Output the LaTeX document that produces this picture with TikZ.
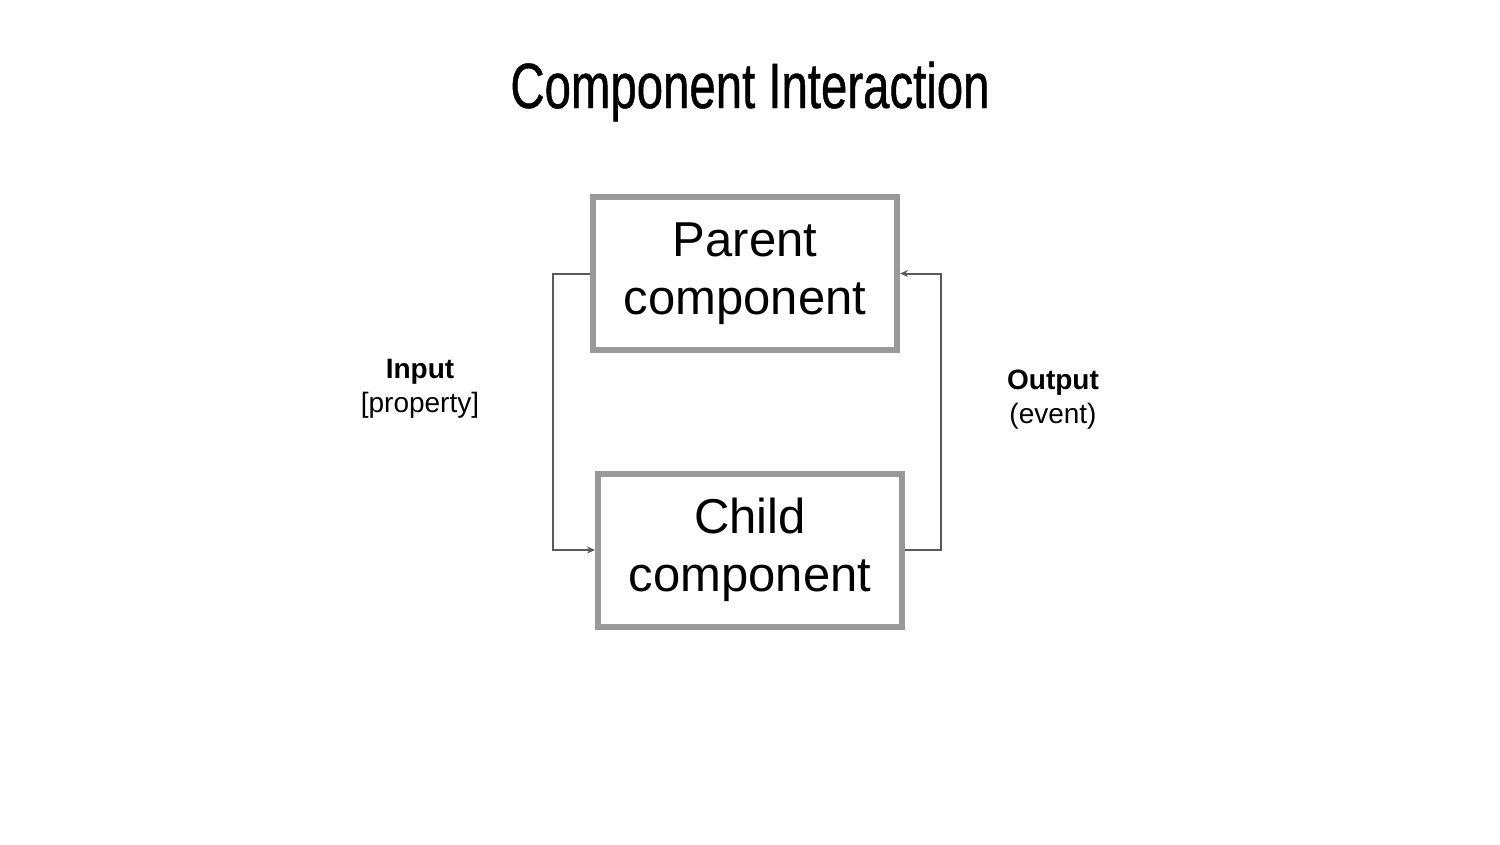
\documentclass[tikz,border=0pt]{standalone}
\usepackage{fontspec}
\setmainfont{Liberation Sans}
\newfontfamily\titlefont[FakeStretch=0.74,FakeBold=0.7]{Liberation Sans}
\usetikzlibrary{arrows.meta,positioning}
\definecolor{boxgray}{HTML}{999999}
\definecolor{linkgray}{HTML}{595959}

\begin{document}
\begin{tikzpicture}[
    x=1pt, y=-1pt,
    comp/.style={rectangle, draw=boxgray, line width=6pt, fill=white, minimum width=304pt, minimum height=153pt, align=center, font=\fontsize{49}{58}\selectfont},
    link/.style={draw=linkgray, line width=2pt, -{Stealth[length=8pt,width=7pt]}},
    iolabel/.style={align=center, font=\fontsize{28}{34}\selectfont},
    heading/.style={font=\titlefont\fontsize{64}{70}\selectfont}
]
\useasboundingbox (0,0) rectangle (1500,844);

% Title
\node[heading, anchor=base] (title) at (750,108) {Component Interaction};

% Components
\node[comp] (parent) at (745,273.5) {Parent\\component};
\node[comp] (child) at (750,550) {Child\\component};

% Input: parent -> child
\draw[link] (parent.west) -- ++(-37,0) |- (child.west);
% Output: child -> parent
\draw[link] (child.east) -- ++(36,0) |- (parent.east);

% Labels
\node[iolabel] (input) at (420,389) {\textbf{Input}\\{[property]}};
\node[iolabel] (output) at (1053,400) {\textbf{Output}\\(event)};

\end{tikzpicture}
\end{document}
